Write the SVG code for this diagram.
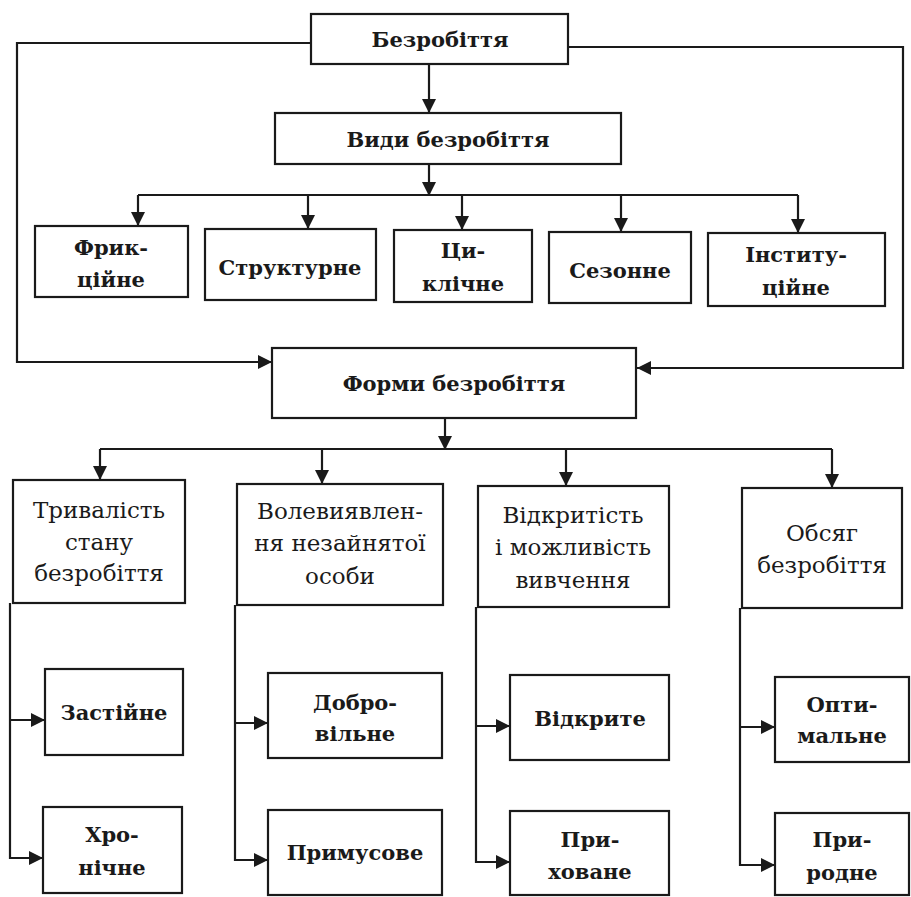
<svg xmlns="http://www.w3.org/2000/svg" width="911" height="897" viewBox="0 0 911 897">
<defs>
<marker id="arr" viewBox="0 0 14 14" refX="14" refY="7" markerWidth="15" markerHeight="14" markerUnits="userSpaceOnUse" orient="auto">
<path d="M0,0 L14,7 L0,14 Z" fill="#1a1a1a"/>
</marker>
</defs>
<style>
rect{fill:#fff;stroke:#1a1a1a;stroke-width:2.2}
.c path{fill:none;stroke:#1a1a1a;stroke-width:2.2}
.a{marker-end:url(#arr)}
text{font-family:"DejaVu Serif","Liberation Serif",serif;fill:#1a1a1a;text-anchor:middle}
.t{font-size:21px;font-weight:bold}
.k{font-size:21px;font-weight:bold}
.g{font-size:23px}
.l{font-size:21px;font-weight:bold}
</style>
<rect x="0" y="0" width="911" height="897" style="fill:#fff;stroke:none"/>
<g class="c" id="connectors">
<path d="M311,43 H17 V362 H272" class="a"/>
<path d="M568,47 H903 V368 H637" class="a"/>
<path d="M429,64 V113" class="a"/>
<path d="M429,164 V196" class="a"/>
<path d="M138,195 H798"/>
<path d="M138,195 V226" class="a"/>
<path d="M308,195 V229" class="a"/>
<path d="M462,195 V230" class="a"/>
<path d="M621,195 V232" class="a"/>
<path d="M798,195 V233" class="a"/>
<path d="M445,418 V450" class="a"/>
<path d="M100,449 H832"/>
<path d="M100,449 V480" class="a"/>
<path d="M322,449 V484" class="a"/>
<path d="M566,449 V486" class="a"/>
<path d="M832,449 V488" class="a"/>
<path d="M10,603 V858 H43" class="a"/>
<path d="M10,720 H45" class="a"/>
<path d="M235,605 V860 H268" class="a"/>
<path d="M235,723 H268" class="a"/>
<path d="M476,607 V862 H510" class="a"/>
<path d="M476,726 H510" class="a"/>
<path d="M740,608 V865 H775" class="a"/>
<path d="M740,727 H775" class="a"/>
</g>
<g id="n-bezrobittia"><rect x="311" y="14" width="257" height="50"/><text class="t" x="440" y="47">Безробіття</text></g>
<g id="n-vydy"><rect x="275" y="113" width="346" height="51"/><text class="t" x="448" y="147">Види безробіття</text></g>
<g id="n-fryk"><rect x="35" y="226" width="153" height="71"/><text class="k" x="111" y="255">Фрик-</text><text class="k" x="111" y="287">ційне</text></g>
<g id="n-strukt"><rect x="205" y="229" width="171" height="71"/><text class="k" x="290" y="275">Структурне</text></g>
<g id="n-tsykl"><rect x="394" y="230" width="138" height="72"/><text class="k" x="463" y="258">Ци-</text><text class="k" x="463" y="291">клічне</text></g>
<g id="n-sez"><rect x="549" y="232" width="142" height="71"/><text class="k" x="620" y="278">Сезонне</text></g>
<g id="n-inst"><rect x="708" y="233" width="177" height="73"/><text class="k" x="796" y="262">Інститу-</text><text class="k" x="796" y="295">ційне</text></g>
<g id="n-formy"><rect x="272" y="348" width="364" height="70"/><text class="t" x="454" y="391">Форми безробіття</text></g>
<g id="n-tryv"><rect x="13" y="480" width="172" height="123"/><text class="g" x="99" y="518">Тривалість</text><text class="g" x="99" y="550">стану</text><text class="g" x="99" y="581">безробіття</text></g>
<g id="n-vol"><rect x="237" y="484" width="206" height="121"/><text class="g" x="340" y="519">Волевиявлен-</text><text class="g" x="340" y="551">ня незайнятої</text><text class="g" x="340" y="584">особи</text></g>
<g id="n-vidkr"><rect x="478" y="486" width="191" height="121"/><text class="g" x="573" y="523">Відкритість</text><text class="g" x="573" y="555">і можливість</text><text class="g" x="573" y="588">вивчення</text></g>
<g id="n-obs"><rect x="742" y="488" width="160" height="120"/><text class="g" x="822" y="541">Обсяг</text><text class="g" x="822" y="573">безробіття</text></g>
<g id="n-zast"><rect x="45" y="669" width="138" height="86"/><text class="l" x="114" y="720">Застійне</text></g>
<g id="n-khron"><rect x="43" y="807" width="139" height="86"/><text class="l" x="112" y="842">Хро-</text><text class="l" x="112" y="875">нічне</text></g>
<g id="n-dobr"><rect x="268" y="673" width="174" height="85"/><text class="l" x="355" y="710">Добро-</text><text class="l" x="355" y="741">вільне</text></g>
<g id="n-prym"><rect x="268" y="810" width="174" height="85"/><text class="l" x="355" y="860">Примусове</text></g>
<g id="n-vidkryte"><rect x="510" y="675" width="159" height="85"/><text class="l" x="590" y="726">Відкрите</text></g>
<g id="n-prykh"><rect x="510" y="811" width="159" height="84"/><text class="l" x="590" y="847">При-</text><text class="l" x="590" y="879">ховане</text></g>
<g id="n-opt"><rect x="775" y="677" width="134" height="85"/><text class="l" x="842" y="712">Опти-</text><text class="l" x="842" y="743">мальне</text></g>
<g id="n-pryr"><rect x="775" y="813" width="134" height="82"/><text class="l" x="842" y="847">При-</text><text class="l" x="842" y="880">родне</text></g>
</svg>
